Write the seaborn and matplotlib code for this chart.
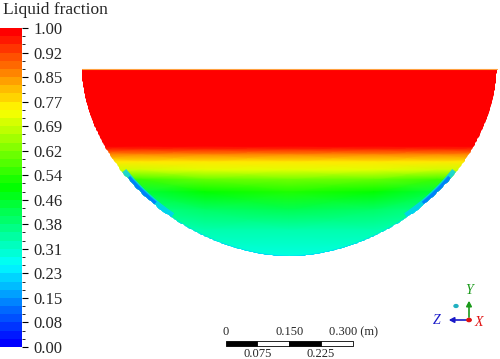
import numpy as np
import matplotlib
matplotlib.use("Agg")
import matplotlib.pyplot as plt
import seaborn as sns
from matplotlib.colors import ListedColormap, Normalize
from matplotlib.path import Path
from matplotlib.patches import PathPatch
from matplotlib.cm import ScalarMappable

# legend colour scale (blue -> cyan -> green -> yellow -> red)
legend_colors = ["#0000ff", "#00ffff", "#00ff00", "#ffff00", "#ff0000"]
tick_labels = ["0.00", "0.08", "0.15", "0.23", "0.31", "0.38", "0.46",
               "0.54", "0.62", "0.69", "0.77", "0.85", "0.92", "1.00"]
n_bands = 39

# tank cross-section (m)
half_width = 0.49
tank_depth = 0.444

# liquid fraction on a coarse grid: columns across the tank, rows by depth below the free surface
x_cols = [-0.49, -0.35, -0.20, 0.0, 0.20, 0.35, 0.49]
depth_rows = [0.0, 0.184, 0.192, 0.204, 0.221, 0.240, 0.262, 0.292, 0.334, 0.382, 0.444]
frac_grid = [
    [1.00, 1.00, 1.00, 1.00, 1.00, 1.00, 1.00],
    [1.00, 1.00, 1.00, 1.00, 1.00, 1.00, 1.00],
    [0.95, 0.95, 0.95, 0.95, 0.95, 0.95, 0.95],
    [0.86, 0.86, 0.86, 0.86, 0.86, 0.86, 0.86],
    [0.77, 0.77, 0.77, 0.77, 0.77, 0.77, 0.77],
    [0.70, 0.70, 0.72, 0.72, 0.72, 0.70, 0.70],
    [0.56, 0.56, 0.60, 0.61, 0.60, 0.56, 0.56],
    [0.44, 0.44, 0.50, 0.53, 0.50, 0.44, 0.44],
    [0.36, 0.36, 0.40, 0.42, 0.40, 0.36, 0.36],
    [0.31, 0.31, 0.33, 0.33, 0.33, 0.31, 0.31],
    [0.28, 0.28, 0.28, 0.28, 0.28, 0.28, 0.28],
]

# low-fraction streaks along the curved wall (depth range, m)
streak_outer = [0.243, 0.352]
streak_inner = [0.258, 0.322]
wall_layer = [0.300, 0.444]

# scale bar
scale_ticks = [0.0, 0.075, 0.150, 0.225, 0.300]

sns.set_style("white")
plt.rcParams["font.family"] = ["Liberation Serif", "DejaVu Serif"]

smooth_cmap = sns.blend_palette(legend_colors, as_cmap=True)
band_cmap = ListedColormap(sns.blend_palette(legend_colors, n_colors=n_bands))
norm = Normalize(0, 1)

px = 423.3  # pixels per metre
fig = plt.figure(figsize=(5.0, 3.59), dpi=100)
ax = fig.add_axes([0, 0, 1, 1])
ax.set_xlim(-289.2 / px, (500 - 289.2) / px)
ax.set_ylim(-(359 - 68.5) / px, 68.5 / px)
ax.axis("off")

# wall outline: superellipse bottom half
t = np.linspace(np.pi, 2 * np.pi, 400)
ex = half_width * np.sign(np.cos(t)) * np.abs(np.cos(t)) ** (2 / 1.85)
ey = -tank_depth * np.abs(np.sin(t)) ** (2 / 1.85)
verts = np.column_stack([np.r_[ex, ex[0]], np.r_[ey, ey[0]]])
codes = [Path.MOVETO] + [Path.LINETO] * (len(ex) - 1) + [Path.CLOSEPOLY]
tank = PathPatch(Path(verts, codes), facecolor="none", edgecolor="none")
ax.add_patch(tank)

X, Y = np.meshgrid(x_cols, -np.array(depth_rows))
mesh = ax.pcolormesh(X, Y, np.array(frac_grid), cmap=smooth_cmap, norm=norm,
                     shading="gouraud")
mesh.set_clip_path(tank)

# thin low-fraction layer on the lower wall and streaks on the sides
for (d0, d1), c, lw, a in [(wall_layer, 0.2, 1.2, 0.7),
                           (streak_outer, 0.2, 7.0, 0.8),
                           (streak_inner, 0.12, 5.0, 0.9)]:
    sel = (-ey >= d0) & (-ey <= d1)
    for side in (ex <= 0, ex >= 0):
        m = sel & side
        ln = ax.plot(ex[m], ey[m], color=smooth_cmap(c), lw=lw, alpha=a,
                     solid_capstyle="butt")[0]
        ln.set_clip_path(tank)
ax.plot([ex[0], ex[-1]], [0, 0], color="#ffa040", lw=0.8)

# colour bar
cax = fig.add_axes([0, 12 / 359, 22 / 500, 319 / 359])
cb = fig.colorbar(ScalarMappable(norm=norm, cmap=band_cmap), cax=cax)
cb.outline.set_visible(False)
cb.set_ticks(np.linspace(0, 1, len(tick_labels)))
cb.set_ticklabels(tick_labels)
cax.set_yticks(np.linspace(0, 1, n_bands + 1), minor=True)
cax.tick_params(which="major", length=4, width=0.8, color="black",
                labelsize=12, pad=4, right=True)
cax.tick_params(which="minor", length=2, width=0.6, color="black", right=True)
fig.text(3 / 500, 1 - 10 / 359, "Liquid fraction", fontsize=12.5, va="center")

# scale bar
y0, y1 = -0.643, -0.655
for i in range(len(scale_ticks) - 1):
    ax.fill_between([scale_ticks[i] - 0.15, scale_ticks[i + 1] - 0.15], y1, y0,
                    facecolor="black" if i % 2 == 0 else "white",
                    edgecolor="black", lw=0.6)
for i, v in enumerate(scale_ticks):
    lab = f"{v:.3f}" if v > 0 else "0"
    if i % 2 == 0:
        if i == len(scale_ticks) - 1:
            ax.text(v - 0.15 - 0.055, -0.622, lab + " (m)", fontsize=9,
                    ha="left", va="center")
        else:
            ax.text(v - 0.15, -0.622, lab, fontsize=9, ha="center", va="center")
    else:
        ax.text(v - 0.15, -0.675, lab, fontsize=9, ha="center", va="center")

# axis triad
def fpt(xp, yp):
    return (xp / 500, 1 - yp / 359)

fig.add_artist(matplotlib.patches.FancyArrowPatch(
    fpt(469, 320), fpt(469, 298), transform=fig.transFigure,
    arrowstyle="-|>,head_length=3,head_width=1.6", color="#1a9a1a", lw=1.2))
fig.add_artist(matplotlib.patches.FancyArrowPatch(
    fpt(469, 320), fpt(446, 320), transform=fig.transFigure,
    arrowstyle="-|>,head_length=3,head_width=1.6", color="#1a1ac8", lw=1.2))
fig.text(*fpt(469, 291), "Y", color="#1a9a1a", fontsize=10, style="italic",
         ha="center", va="center")
fig.text(*fpt(437, 320), "Z", color="#1a1ac8", fontsize=10, style="italic",
         ha="center", va="center")
fig.text(*fpt(479, 322), "X", color="#e01010", fontsize=10, style="italic",
         ha="center", va="center")
fig.add_artist(plt.Circle(fpt(469, 320), 2.2 / 500, color="#e01010",
                          transform=fig.transFigure))
fig.add_artist(plt.Circle(fpt(456, 306), 2.0 / 500, color="#20b0c0",
                          transform=fig.transFigure))

fig.savefig("out.png", dpi=100)
